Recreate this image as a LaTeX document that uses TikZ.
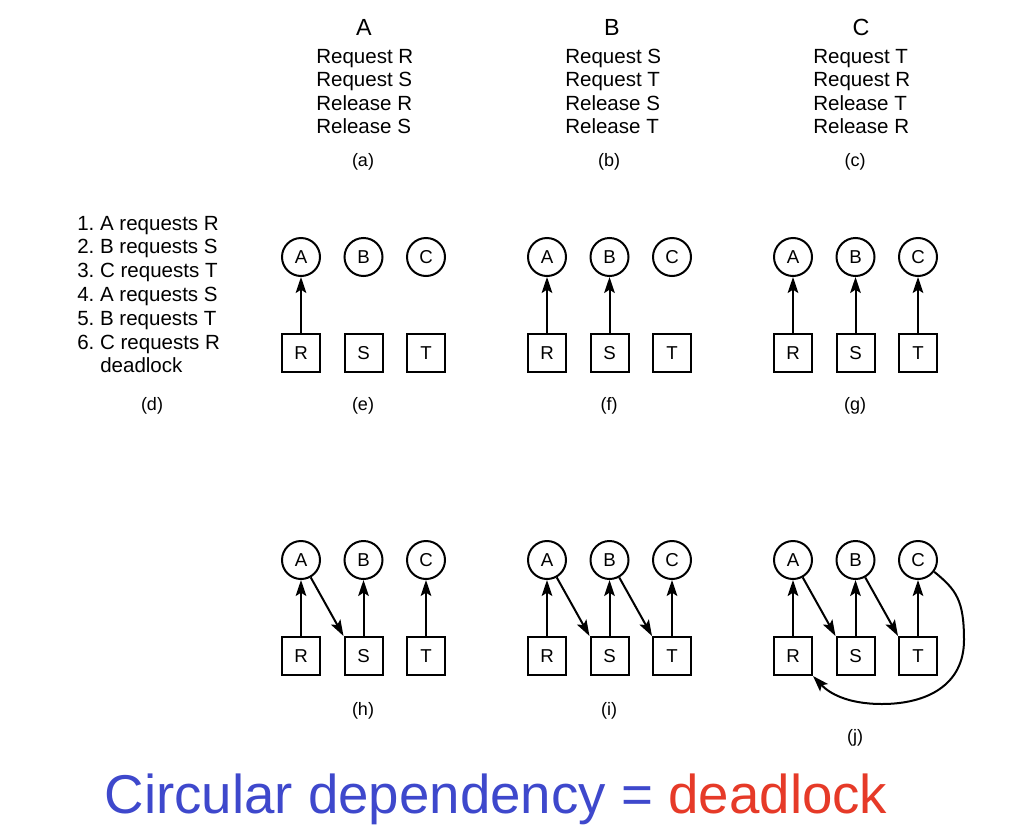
\documentclass[tikz,border=0pt]{standalone}
\usepackage{fontspec}
\setmainfont{Liberation Sans}
\usetikzlibrary{arrows.meta}
\definecolor{tblue}{RGB}{62,72,204}
\definecolor{tred}{RGB}{230,58,40}
\begin{document}
\frenchspacing
\begin{tikzpicture}[x=0.75pt,y=-0.75pt,
  proc/.style={circle,draw,line width=1.5pt,minimum size=28.5pt,inner sep=0pt,font=\fontsize{14}{16}\selectfont},
  res/.style={rectangle,draw,line width=1.5pt,minimum size=28.5pt,inner sep=0pt,font=\fontsize{14}{16}\selectfont},
  arr/.style={-{Stealth[length=12pt,width=8pt,inset=2.5pt]},line width=1.5pt},
  txt/.style={inner sep=0pt,font=\fontsize{15.4}{18}\selectfont},
  sub/.style={inner sep=0pt,anchor=base,font=\fontsize{13.5}{16}\selectfont},
  head/.style={inner sep=0pt,anchor=base,font=\fontsize{17.5}{20}\selectfont}]
\useasboundingbox (0,0) rectangle (1032,832);

% column heads
\node[head] (hA) at (364,35) {A};
\node[head] (hB) at (612,35) {B};
\node[head] (hC) at (861,35) {C};

% programs
\foreach \c/\x/\a/\b/\d/\e in {a/316/Request R/Request S/Release R/Release S,
                                b/565/Request S/Request T/Release S/Release T,
                                c/813/Request T/Request R/Release T/Release R}{
  \node[txt,anchor=base west] (\c1) at (\x,63.3) {\a};
  \node[txt,anchor=base west] (\c2) at (\x,86.7) {\b};
  \node[txt,anchor=base west] (\c3) at (\x,110) {\d};
  \node[txt,anchor=base west] (\c4) at (\x,133.3) {\e};
}
\node[sub] (la) at (363,166.5) {(a)};
\node[sub] (lb) at (609,166.5) {(b)};
\node[sub] (lc) at (855,166.5) {(c)};

% list (d)
\node[txt,anchor=base west] (d1) at (77,230) {1. A requests R};
\node[txt,anchor=base west] (d2) at (77,253.8) {2. B requests S};
\node[txt,anchor=base west] (d3) at (77,277.6) {3. C requests T};
\node[txt,anchor=base west] (d4) at (77,301.4) {4. A requests S};
\node[txt,anchor=base west] (d5) at (77,325.2) {5. B requests T};
\node[txt,anchor=base west] (d6) at (77,349) {6. C requests R};
\node[txt,anchor=base west] (d7) at (100,372.8) {deadlock};
\node[sub] (ld) at (152,410.5) {(d)};

% graphs
\foreach \p/\x/\y in {e/301/257,f/547/257,g/793/257,h/301/560,i/547/560,j/793/560}{
  \node[proc] (\p A) at (\x,\y) {A};
  \node[proc] (\p B) at (\x+62.5,\y) {B};
  \node[proc] (\p C) at (\x+125,\y) {C};
  \node[res] (\p R) at (\x,\y+96) {R};
  \node[res] (\p S) at (\x+62.5,\y+96) {S};
  \node[res] (\p T) at (\x+125,\y+96) {T};
}
\node[sub] (le) at (363,410.5) {(e)};
\node[sub] (lf) at (609,410.5) {(f)};
\node[sub] (lg) at (855,410.5) {(g)};
\node[sub] (lh) at (363,715) {(h)};
\node[sub] (li) at (609,715) {(i)};
\node[sub] (lj) at (855,742) {(j)};

% edges
\draw[arr] (eR) -- (eA);
\draw[arr] (fR) -- (fA);
\draw[arr] (fS) -- (fB);
\draw[arr] (gR) -- (gA);
\draw[arr] (gS) -- (gB);
\draw[arr] (gT) -- (gC);
\draw[arr] (hR) -- (hA);
\draw[arr] (hS) -- (hB);
\draw[arr] (hT) -- (hC);
\draw[arr] (hA) -- (hS.north west);
\draw[arr] (iR) -- (iA);
\draw[arr] (iS) -- (iB);
\draw[arr] (iT) -- (iC);
\draw[arr] (iA) -- (iS.north west);
\draw[arr] (iB) -- (iT.north west);
\draw[arr] (jR) -- (jA);
\draw[arr] (jS) -- (jB);
\draw[arr] (jT) -- (jC);
\draw[arr] (jA) -- (jS.north west);
\draw[arr] (jB) -- (jT.north west);
\draw[arr] (jC.-36) .. controls +(22,18) and +(0,-40) .. (964,640)
  .. controls +(0,45) and +(45,0) .. (882,704)
  .. controls +(-35,0) and +(16,17) .. (jR.south east);

% caption
\node[inner sep=0pt,anchor=base,font=\fontsize{41}{48}\selectfont] (cap) at (496,813)
  {\textcolor{tblue}{Circular dependency =} \textcolor{tred}{deadlock}};
\end{tikzpicture}
\end{document}
